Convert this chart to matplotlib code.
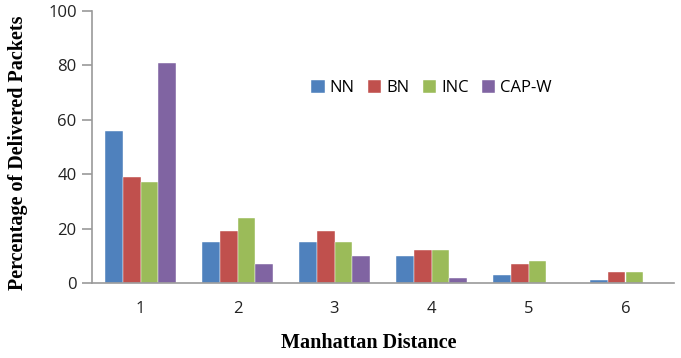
#!/usr/bin/env python3

import numpy as np
import matplotlib
matplotlib.use("Agg")
import matplotlib.pyplot as plt


# data
distances = ["1", "2", "3", "4", "5", "6"]
series_names = ["NN", "BN", "INC", "CAP-W"]
nn = [56, 15, 15, 10, 3, 1]
bn = [39, 19, 19, 12, 7, 4]
inc = [37, 24, 15, 12, 8, 4]
capw = [81, 7, 10, 2, 0, 0]
colors = ["#4F81BD", "#C0504D", "#9BBB59", "#8064A2"]


def main():
    fig = plt.figure(figsize=(6.81, 3.58), dpi=100)
    ax = fig.add_axes([92 / 681, 1 - 283 / 358, 582 / 681, 272 / 358])

    x = np.arange(len(distances))
    w = 0.185
    all_series = [nn, bn, inc, capw]
    for i, (vals, name, c) in enumerate(zip(all_series, series_names, colors)):
        ax.bar(x + (i - 1.5) * w, vals, w, color=c, label=name,
               edgecolor="white", linewidth=0.3)

    ax.set_xlim(-0.5, len(distances) - 0.5)
    ax.set_ylim(0, 100)
    ax.set_yticks(range(0, 101, 20))
    ax.set_xticks(x)
    ax.set_xticklabels(distances)

    for s in ["top", "right"]:
        ax.spines[s].set_visible(False)
    for s in ["left", "bottom"]:
        ax.spines[s].set_color("#9a9a9a")
        ax.spines[s].set_linewidth(1.2)
    ax.tick_params(axis="y", direction="out", length=7, color="#9a9a9a", width=1.2,
                   labelsize=12, labelcolor="#222222", pad=4)
    ax.tick_params(axis="x", length=0, labelsize=12, labelcolor="#222222", pad=13)
    for lab in ax.get_xticklabels() + ax.get_yticklabels():
        lab.set_fontfamily("Open Sans")

    ax.set_xlabel("Manhattan Distance", fontsize=14.5, fontweight="bold",
                  fontfamily="Liberation Serif")
    ax.set_ylabel("Percentage of Delivered Packets", fontsize=14.5, fontweight="bold",
                  fontfamily="Liberation Serif")
    ax.xaxis.set_label_coords(0.476, -0.185)
    ax.yaxis.set_label_coords(-0.11, 0.478)

    fig.legend(loc="center", bbox_to_anchor=(0.634, 0.754), ncol=4, frameon=False,
               handlelength=0.8, handleheight=0.8, handletextpad=0.3,
               columnspacing=0.8, prop={"family": "Open Sans", "size": 12})

    fig.savefig("out.png", dpi=100)


if __name__ == '__main__':
    main()
